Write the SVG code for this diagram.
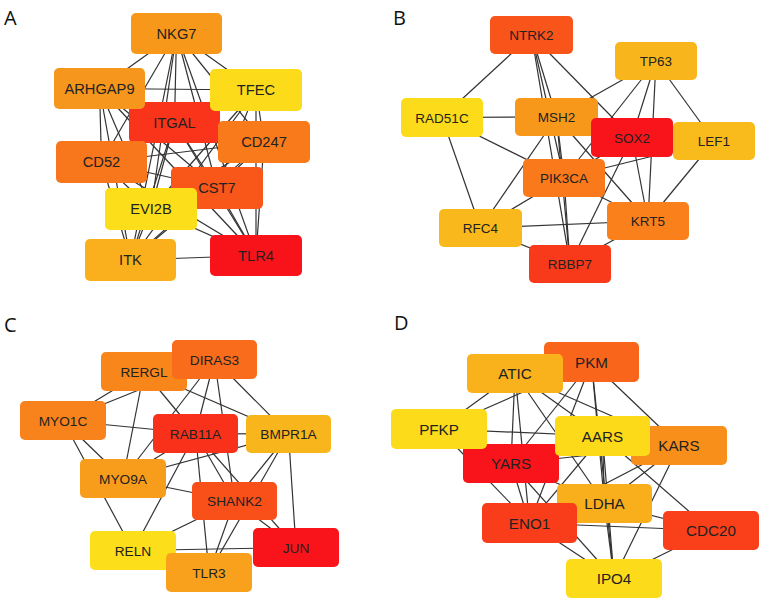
<svg xmlns="http://www.w3.org/2000/svg" width="776" height="604" viewBox="0 0 776 604">
<style>
.bg{fill:#ffffff}
.e line{stroke:#333;stroke-width:1.2}
.n rect{rx:5;ry:5}
.n text{font-family:"Liberation Sans",Arial,sans-serif;fill:#222;text-anchor:middle}
.pa text{font-size:14.7px}
.pb text{font-size:13.5px}
.pc text{font-size:13.7px}
.pd text{font-size:15.2px}
.lab{font-family:"Open Sans","Liberation Sans",sans-serif;font-size:20px;fill:#111}
</style>
<rect class="bg" x="0" y="0" width="776" height="604"/>
<text class="lab" x="4" y="25">A</text>
<text class="lab" x="393" y="25">B</text>
<text class="lab" x="4" y="332">C</text>
<text class="lab" x="394" y="330">D</text>
<g id="connectors" class="e">
<!-- Panel A -->
<line x1="176.5" y1="33.5" x2="99.5" y2="88.5"/><line x1="176.5" y1="33.5" x2="256" y2="90"/><line x1="176.5" y1="33.5" x2="174.5" y2="122.5"/><line x1="176.5" y1="33.5" x2="264" y2="142"/><line x1="176.5" y1="33.5" x2="101.5" y2="162"/><line x1="176.5" y1="33.5" x2="217" y2="188"/><line x1="176.5" y1="33.5" x2="151" y2="209"/><line x1="176.5" y1="33.5" x2="130.5" y2="260"/><line x1="176.5" y1="33.5" x2="256" y2="255.5"/>
<line x1="99.5" y1="88.5" x2="256" y2="90"/><line x1="99.5" y1="88.5" x2="174.5" y2="122.5"/><line x1="99.5" y1="88.5" x2="264" y2="142"/><line x1="99.5" y1="88.5" x2="101.5" y2="162"/><line x1="99.5" y1="88.5" x2="217" y2="188"/><line x1="99.5" y1="88.5" x2="151" y2="209"/><line x1="99.5" y1="88.5" x2="130.5" y2="260"/><line x1="99.5" y1="88.5" x2="256" y2="255.5"/>
<line x1="256" y1="90" x2="174.5" y2="122.5"/><line x1="256" y1="90" x2="264" y2="142"/><line x1="256" y1="90" x2="101.5" y2="162"/><line x1="256" y1="90" x2="217" y2="188"/><line x1="256" y1="90" x2="151" y2="209"/><line x1="256" y1="90" x2="130.5" y2="260"/><line x1="256" y1="90" x2="256" y2="255.5"/>
<line x1="174.5" y1="122.5" x2="264" y2="142"/><line x1="174.5" y1="122.5" x2="101.5" y2="162"/><line x1="174.5" y1="122.5" x2="217" y2="188"/><line x1="174.5" y1="122.5" x2="151" y2="209"/><line x1="174.5" y1="122.5" x2="130.5" y2="260"/><line x1="174.5" y1="122.5" x2="256" y2="255.5"/>
<line x1="264" y1="142" x2="101.5" y2="162"/><line x1="264" y1="142" x2="217" y2="188"/><line x1="264" y1="142" x2="151" y2="209"/><line x1="264" y1="142" x2="130.5" y2="260"/><line x1="264" y1="142" x2="256" y2="255.5"/>
<line x1="101.5" y1="162" x2="217" y2="188"/><line x1="101.5" y1="162" x2="151" y2="209"/><line x1="101.5" y1="162" x2="130.5" y2="260"/><line x1="101.5" y1="162" x2="256" y2="255.5"/>
<line x1="217" y1="188" x2="151" y2="209"/><line x1="217" y1="188" x2="130.5" y2="260"/><line x1="217" y1="188" x2="256" y2="255.5"/>
<line x1="151" y1="209" x2="130.5" y2="260"/><line x1="151" y1="209" x2="256" y2="255.5"/>
<line x1="130.5" y1="260" x2="256" y2="255.5"/>
<!-- Panel B -->
<line x1="531.5" y1="35" x2="442" y2="117.5"/><line x1="531.5" y1="35" x2="556.5" y2="117"/><line x1="531.5" y1="35" x2="564" y2="178"/><line x1="531.5" y1="35" x2="570" y2="264"/><line x1="531.5" y1="35" x2="632" y2="137.5"/>
<line x1="656" y1="61" x2="556.5" y2="117"/><line x1="656" y1="61" x2="632" y2="137.5"/><line x1="656" y1="61" x2="564" y2="178"/><line x1="656" y1="61" x2="714" y2="141"/><line x1="656" y1="61" x2="648" y2="221"/>
<line x1="442" y1="117.5" x2="556.5" y2="117"/><line x1="442" y1="117.5" x2="564" y2="178"/><line x1="442" y1="117.5" x2="480.5" y2="228"/>
<line x1="556.5" y1="117" x2="480.5" y2="228"/><line x1="556.5" y1="117" x2="564" y2="178"/><line x1="556.5" y1="117" x2="570" y2="264"/><line x1="556.5" y1="117" x2="648" y2="221"/>
<line x1="632" y1="137.5" x2="564" y2="178"/><line x1="632" y1="137.5" x2="570" y2="264"/><line x1="632" y1="137.5" x2="648" y2="221"/>
<line x1="714" y1="141" x2="648" y2="221"/><line x1="714" y1="141" x2="564" y2="178"/>
<line x1="564" y1="178" x2="480.5" y2="228"/><line x1="564" y1="178" x2="648" y2="221"/><line x1="564" y1="178" x2="570" y2="264"/>
<line x1="480.5" y1="228" x2="648" y2="221"/><line x1="480.5" y1="228" x2="570" y2="264"/><line x1="648" y1="221" x2="570" y2="264"/>
<!-- Panel C -->
<line x1="144" y1="371.5" x2="63" y2="420.5"/><line x1="214.5" y1="359.5" x2="63" y2="420.5"/><line x1="144" y1="371.5" x2="123" y2="478.5"/><line x1="144" y1="371.5" x2="195.5" y2="433.5"/><line x1="144" y1="371.5" x2="288.5" y2="434"/>
<line x1="214.5" y1="359.5" x2="195.5" y2="433.5"/><line x1="214.5" y1="359.5" x2="234.5" y2="501"/><line x1="214.5" y1="359.5" x2="288.5" y2="434"/><line x1="214.5" y1="359.5" x2="123" y2="478.5"/>
<line x1="63" y1="420.5" x2="195.5" y2="433.5"/><line x1="63" y1="420.5" x2="123" y2="478.5"/><line x1="63" y1="420.5" x2="133" y2="550.5"/>
<line x1="195.5" y1="433.5" x2="288.5" y2="434"/><line x1="195.5" y1="433.5" x2="123" y2="478.5"/><line x1="195.5" y1="433.5" x2="234.5" y2="501"/><line x1="195.5" y1="433.5" x2="133" y2="550.5"/><line x1="195.5" y1="433.5" x2="209" y2="572.5"/><line x1="195.5" y1="433.5" x2="296" y2="547.5"/>
<line x1="288.5" y1="434" x2="123" y2="478.5"/><line x1="288.5" y1="434" x2="234.5" y2="501"/><line x1="288.5" y1="434" x2="209" y2="572.5"/><line x1="288.5" y1="434" x2="296" y2="547.5"/>
<line x1="123" y1="478.5" x2="234.5" y2="501"/>
<line x1="234.5" y1="501" x2="133" y2="550.5"/><line x1="234.5" y1="501" x2="209" y2="572.5"/><line x1="234.5" y1="501" x2="296" y2="547.5"/>
<line x1="133" y1="550.5" x2="296" y2="547.5"/>
<!-- Panel D -->
<line x1="591.5" y1="362" x2="439" y2="429"/><line x1="591.5" y1="362" x2="679" y2="445.5"/><line x1="591.5" y1="362" x2="511" y2="463.5"/><line x1="591.5" y1="362" x2="604.5" y2="503.5"/><line x1="591.5" y1="362" x2="529.5" y2="523"/><line x1="591.5" y1="362" x2="614" y2="578.5"/>
<line x1="515" y1="373.5" x2="439" y2="429"/><line x1="515" y1="373.5" x2="511" y2="463.5"/><line x1="515" y1="373.5" x2="602.5" y2="436"/><line x1="515" y1="373.5" x2="679" y2="445.5"/><line x1="515" y1="373.5" x2="604.5" y2="503.5"/><line x1="515" y1="373.5" x2="529.5" y2="523"/>
<line x1="439" y1="429" x2="602.5" y2="436"/><line x1="439" y1="429" x2="529.5" y2="523"/>
<line x1="602.5" y1="436" x2="604.5" y2="503.5"/><line x1="602.5" y1="436" x2="529.5" y2="523"/><line x1="602.5" y1="436" x2="711" y2="530.5"/><line x1="602.5" y1="436" x2="614" y2="578.5"/>
<line x1="679" y1="445.5" x2="604.5" y2="503.5"/><line x1="679" y1="445.5" x2="529.5" y2="523"/><line x1="679" y1="445.5" x2="614" y2="578.5"/><line x1="679" y1="445.5" x2="511" y2="463.5"/>
<line x1="511" y1="463.5" x2="529.5" y2="523"/><line x1="511" y1="463.5" x2="604.5" y2="503.5"/><line x1="511" y1="463.5" x2="614" y2="578.5"/>
<line x1="604.5" y1="503.5" x2="614" y2="578.5"/><line x1="604.5" y1="503.5" x2="711" y2="530.5"/>
<line x1="529.5" y1="523" x2="711" y2="530.5"/><line x1="529.5" y1="523" x2="614" y2="578.5"/>
<line x1="711" y1="530.5" x2="614" y2="578.5"/>
</g>
<!-- Panel A nodes -->
<g id="ITGAL" class="n pa"><rect x="129" y="102" width="91" height="41" fill="#F9341A"/><text x="174.5" y="127.5">ITGAL</text></g>
<g id="CST7" class="n pa"><rect x="171" y="167" width="92" height="42" fill="#F9561A"/><text x="217" y="193">CST7</text></g>
<g id="NKG7" class="n pa"><rect x="131" y="13" width="91" height="41" fill="#F7981B"/><text x="176.5" y="38.5">NKG7</text></g>
<g id="ARHGAP9" class="n pa"><rect x="54" y="68" width="91" height="41" fill="#F7961C"/><text x="99.5" y="93.5">ARHGAP9</text></g>
<g id="TFEC" class="n pa"><rect x="210" y="69" width="92" height="42" fill="#FCDC1A"/><text x="256" y="95">TFEC</text></g>
<g id="CD247" class="n pa"><rect x="218" y="121" width="92" height="42" fill="#F97A1B"/><text x="264" y="147">CD247</text></g>
<g id="CD52" class="n pa"><rect x="56" y="141" width="91" height="42" fill="#F8761C"/><text x="101.5" y="167">CD52</text></g>
<g id="EVI2B" class="n pa"><rect x="105" y="188" width="92" height="42" fill="#FCDE1A"/><text x="151" y="214">EVI2B</text></g>
<g id="ITK" class="n pa"><rect x="85" y="239" width="91" height="42" fill="#F9B01C"/><text x="130.5" y="265">ITK</text></g>
<g id="TLR4" class="n pa"><rect x="210" y="235" width="92" height="41" fill="#F8131A"/><text x="256" y="260.5">TLR4</text></g>
<!-- Panel B nodes -->
<g id="NTRK2" class="n pb"><rect x="490" y="16" width="83" height="38" fill="#F9541A"/><text x="531.5" y="40">NTRK2</text></g>
<g id="TP63" class="n pb"><rect x="615" y="42" width="82" height="38" fill="#F9B61C"/><text x="656" y="66">TP63</text></g>
<g id="RAD51C" class="n pb"><rect x="401" y="98" width="82" height="39" fill="#FCDC1A"/><text x="442" y="122.5">RAD51C</text></g>
<g id="MSH2" class="n pb"><rect x="515" y="98" width="83" height="38" fill="#F8981B"/><text x="556.5" y="122">MSH2</text></g>
<g id="SOX2" class="n pb"><rect x="591" y="118" width="82" height="39" fill="#F8141A"/><text x="632" y="142.5">SOX2</text></g>
<g id="LEF1" class="n pb"><rect x="673" y="122" width="82" height="38" fill="#F9BA1C"/><text x="714" y="146">LEF1</text></g>
<g id="PIK3CA" class="n pb"><rect x="523" y="159" width="82" height="38" fill="#F9791B"/><text x="564" y="183">PIK3CA</text></g>
<g id="RFC4" class="n pb"><rect x="439" y="209" width="83" height="38" fill="#F9B81C"/><text x="480.5" y="233">RFC4</text></g>
<g id="KRT5" class="n pb"><rect x="607" y="202" width="82" height="38" fill="#F9801B"/><text x="648" y="226">KRT5</text></g>
<g id="RBBP7" class="n pb"><rect x="529" y="245" width="82" height="38" fill="#F93A1A"/><text x="570" y="269">RBBP7</text></g>
<!-- Panel C nodes -->
<g id="RERGL" class="n pc"><rect x="101" y="352" width="86" height="39" fill="#F8861B"/><text x="144" y="376.5">RERGL</text></g>
<g id="DIRAS3" class="n pc"><rect x="172" y="340" width="85" height="39" fill="#F96C1B"/><text x="214.5" y="364.5">DIRAS3</text></g>
<g id="MYO1C" class="n pc"><rect x="20" y="401" width="86" height="39" fill="#F8821B"/><text x="63" y="425.5">MYO1C</text></g>
<g id="RAB11A" class="n pc"><rect x="153" y="414" width="85" height="39" fill="#F9301A"/><text x="195.5" y="438.5">RAB11A</text></g>
<g id="BMPR1A" class="n pc"><rect x="246" y="415" width="85" height="38" fill="#F9B61C"/><text x="288.5" y="439">BMPR1A</text></g>
<g id="MYO9A" class="n pc"><rect x="80" y="459" width="86" height="39" fill="#F89C1B"/><text x="123" y="483.5">MYO9A</text></g>
<g id="SHANK2" class="n pc"><rect x="192" y="482" width="85" height="38" fill="#F9501A"/><text x="234.5" y="506">SHANK2</text></g>
<g id="RELN" class="n pc"><rect x="90" y="531" width="86" height="39" fill="#FCDE1A"/><text x="133" y="555.5">RELN</text></g>
<g id="JUN" class="n pc"><rect x="253" y="528" width="86" height="39" fill="#F8141A"/><text x="296" y="552.5">JUN</text></g>
<g id="TLR3" class="n pc"><rect x="166" y="553" width="86" height="39" fill="#F9A01C"/><text x="209" y="577.5">TLR3</text></g>
<!-- Panel D nodes -->
<g id="PKM" class="n pd"><rect x="544" y="342" width="95" height="40" fill="#F9661B"/><text x="591.5" y="367.5">PKM</text></g>
<g id="ATIC" class="n pd"><rect x="467" y="354" width="96" height="39" fill="#F9B21C"/><text x="515" y="379">ATIC</text></g>
<g id="KARS" class="n pd"><rect x="631" y="426" width="96" height="39" fill="#F98F1B"/><text x="679" y="451">KARS</text></g>
<g id="YARS" class="n pd"><rect x="463" y="444" width="96" height="39" fill="#F8141A"/><text x="511" y="469">YARS</text></g>
<g id="PFKP" class="n pd"><rect x="391" y="409" width="96" height="40" fill="#FCDC1A"/><text x="439" y="434.5">PFKP</text></g>
<g id="AARS" class="n pd"><rect x="555" y="416" width="95" height="40" fill="#FCDA1A"/><text x="602.5" y="441.5">AARS</text></g>
<g id="LDHA" class="n pd"><rect x="557" y="484" width="95" height="39" fill="#F9AE1C"/><text x="604.5" y="509">LDHA</text></g>
<g id="ENO1" class="n pd"><rect x="482" y="503" width="95" height="40" fill="#F93D1A"/><text x="529.5" y="528.5">ENO1</text></g>
<g id="CDC20" class="n pd"><rect x="663" y="511" width="96" height="39" fill="#F9401A"/><text x="711" y="536">CDC20</text></g>
<g id="IPO4" class="n pd"><rect x="566" y="559" width="96" height="39" fill="#FCDC1A"/><text x="614" y="584">IPO4</text></g>
</svg>
